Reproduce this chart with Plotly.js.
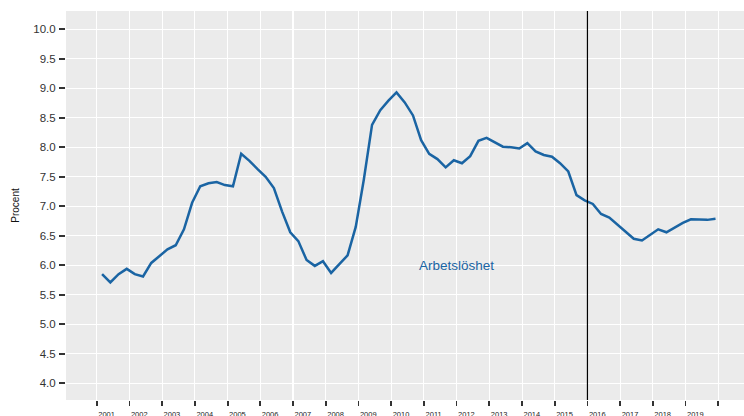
<!DOCTYPE html>
<html>
<head>
<meta charset="utf-8">
<script src="https://cdn.plot.ly/plotly-3.0.1.min.js"></script>
<style>html,body{margin:0;padding:0;background:#fff;}#chart{width:744px;height:416px;}</style>
</head>
<body>
<div id="chart"></div>
<script>
// Quarterly unemployment (Procent), 2001Q1 - 2019Q4
const years = [2001,2002,2003,2004,2005,2006,2007,2008,2009,2010,2011,2012,2013,2014,2015,2016,2017,2018,2019];
const quarterMonths = ['03','06','09','12'];
const unemployment = [
  5.85, 5.71, 5.85, 5.94,   // 2001
  5.85, 5.81, 6.04, 6.15,   // 2002
  6.27, 6.34, 6.61, 7.06,   // 2003
  7.34, 7.39, 7.41, 7.36,   // 2004
  7.34, 7.89, 7.77, 7.63,   // 2005
  7.50, 7.31, 6.91, 6.56,   // 2006
  6.41, 6.09, 5.99, 6.07,   // 2007
  5.87, 6.02, 6.17, 6.65,   // 2008
  7.45, 8.38, 8.63, 8.79,   // 2009
  8.93, 8.76, 8.54, 8.12,   // 2010
  7.89, 7.80, 7.66, 7.78,   // 2011
  7.73, 7.85, 8.11, 8.16,   // 2012
  8.09, 8.01, 8.00, 7.98,   // 2013
  8.07, 7.93, 7.87, 7.84,   // 2014
  7.73, 7.59, 7.19, 7.10,   // 2015
  7.04, 6.87, 6.81, 6.69,   // 2016
  6.57, 6.45, 6.42, 6.51,   // 2017
  6.61, 6.56, 6.64, 6.72,   // 2018
  6.78, 6.77, 6.77, 6.79    // 2019
];
const seriesName = 'Arbetslöshet';
const forecastStart = '2016-01-01';
const yTickVals = [4.0,4.5,5.0,5.5,6.0,6.5,7.0,7.5,8.0,8.5,9.0,9.5,10.0];

const quarterDates = [];
years.forEach(y => quarterMonths.forEach(m => quarterDates.push(y + '-' + m + '-01')));
const yearStarts = years.concat([2020]).map(y => y + '-01-01');
const labelPos = years.map(y => y + '-04-20');
const labelText = years.map(String);

const blue = '#1a64a3';
const font = 'Liberation Sans, Arial, Helvetica, sans-serif';

const trace = {
  x: quarterDates, y: unemployment, type: 'scatter', mode: 'lines',
  line: {color: blue, width: 2.5}, name: seriesName, hoverinfo: 'skip'
};

const layout = {
  width: 744, height: 416,
  margin: {l: 66, r: 0, t: 11, b: 16, pad: 0},
  paper_bgcolor: '#ffffff', plot_bgcolor: '#ebebeb',
  showlegend: false,
  font: {family: font, color: '#333'},
  xaxis: {
    type: 'date', range: ['2000-01-23', '2020-10-14'],
    tickmode: 'array', tickvals: labelPos, ticktext: labelText,
    ticks: 'outside', ticklen: 5, tickcolor: 'rgba(0,0,0,0)',
    ticklabelstandoff: 2,
    tickfont: {size: 7.5, color: '#222', family: font},
    showgrid: false, zeroline: false, showline: false,
    minor: {tickmode: 'array', tickvals: yearStarts, ticks: 'outside', ticklen: 5, tickwidth: 1.8, tickcolor: '#333',
            showgrid: true, gridcolor: '#ffffff', gridwidth: 1.1},
    fixedrange: true
  },
  yaxis: {
    range: [3.717, 10.31], tickmode: 'array', tickvals: yTickVals,
    tickformat: '.1f', ticks: 'outside', ticklen: 6, tickwidth: 1.8, tickcolor: '#333',
    ticklabelstandoff: 1,
    tickfont: {size: 11.5, color: '#333', family: font},
    showgrid: true, gridcolor: '#ffffff', gridwidth: 1.1,
    zeroline: false, showline: false,
    title: {text: 'Procent', font: {size: 10, color: '#111', family: font}, standoff: 11},
    fixedrange: true
  },
  shapes: [{
    type: 'line', xref: 'x', yref: 'paper', x0: forecastStart, x1: forecastStart, y0: 0, y1: 1,
    line: {color: '#000', width: 1.2}
  }],
  annotations: [{
    x: '2012-01-01', y: 6.0, xref: 'x', yref: 'y', text: seriesName, showarrow: false,
    font: {size: 13.5, color: blue, family: font}, xanchor: 'center', yanchor: 'middle'
  }]
};

Plotly.newPlot('chart', [trace], layout, {displayModeBar: false, staticPlot: true});
</script>
</body>
</html>
